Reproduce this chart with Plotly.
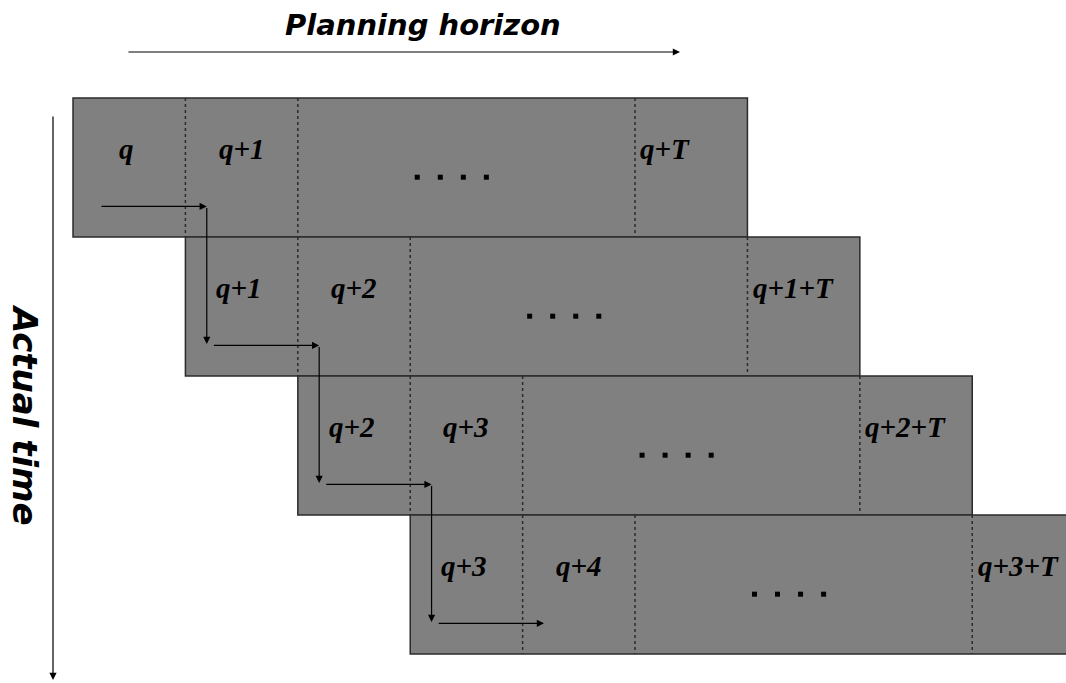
import plotly.graph_objects as go

# --- diagram content -------------------------------------------------
rows = [0, 1, 2, 3]                      # each row starts one cell later
first_labels = ["q", "q+1", "q+2", "q+3"]
second_labels = ["q+1", "q+2", "q+3", "q+4"]
last_labels = ["q+T", "q+1+T", "q+2+T", "q+3+T"]
cell_spans = [1, 1, 3, 1]                # widths of the cells in one row (cell units)
n_dots = 4

# axis ranges in cell units (x) and row units (y)
x_range = [-0.6495, 8.834]
y_range = [4.209, -0.705]

fig = go.Figure()

label_font = dict(family="Liberation Serif, Times New Roman, serif", size=29, color="black")

shapes = []
annotations = []
row_w = sum(cell_spans)
label_y = 0.37

for r in rows:
    # row box
    shapes.append(dict(type="rect", xref="x", yref="y", x0=r, x1=r + row_w, y0=r, y1=r + 1,
                       fillcolor="#808080", line=dict(color="#2b2b2b", width=1.5), layer="below"))
    # dotted dividers
    pos = r
    for w in cell_spans[:-1]:
        pos += w
        shapes.append(dict(type="line", xref="x", yref="y", x0=pos, x1=pos, y0=r, y1=r + 1,
                           line=dict(color="#2b2b2b", width=1.5, dash="dot")))

    annotations.append(dict(x=r + 0.48, y=r + label_y, text="<b><i>%s</i></b>" % first_labels[r],
                            showarrow=False, font=label_font, xref="x", yref="y"))
    annotations.append(dict(x=r + 1.5, y=r + label_y, text="<b><i>%s</i></b>" % second_labels[r],
                            showarrow=False, font=label_font, xref="x", yref="y"))
    annotations.append(dict(x=r + row_w - 1 + 0.03, y=r + label_y, text="<b><i>%s</i></b>" % last_labels[r],
                            showarrow=False, font=label_font, xref="x", yref="y", xanchor="left"))

    # the "...." in the middle block
    fig.add_trace(go.Scatter(
        x=[r + 3.37 + (k - (n_dots - 1) / 2) * 0.205 for k in range(n_dots)],
        y=[r + 0.57] * n_dots,
        mode="markers", marker=dict(symbol="square", size=5, color="black"),
        hoverinfo="skip", showlegend=False))

    # step arrows: right, then down into the next row
    annotations.append(dict(x=r + 1.19, y=r + 0.78, ax=r + 0.24, ay=r + 0.78,
                            xref="x", yref="y", axref="x", ayref="y", text="",
                            showarrow=True, arrowhead=2, arrowsize=1.2, arrowwidth=1.2,
                            arrowcolor="black", standoff=0, startstandoff=0))
    if r < rows[-1]:
        annotations.append(dict(x=r + 1.19, y=r + 1.77, ax=r + 1.19, ay=r + 0.78,
                                xref="x", yref="y", axref="x", ayref="y", text="",
                                showarrow=True, arrowhead=2, arrowsize=1.2, arrowwidth=1.2,
                                arrowcolor="black", standoff=0, startstandoff=0))

# axes arrows and titles
annotations.append(dict(x=5.4, y=-0.331, ax=0.48, ay=-0.331, xref="x", yref="y", axref="x", ayref="y",
                        text="", showarrow=True, arrowhead=2, arrowsize=1.2, arrowwidth=1.2,
                        arrowcolor="black", standoff=0))
annotations.append(dict(x=-0.178, y=4.187, ax=-0.178, ay=0.122, xref="x", yref="y", axref="x", ayref="y",
                        text="", showarrow=True, arrowhead=2, arrowsize=1.2, arrowwidth=1.2,
                        arrowcolor="black", standoff=0))
annotations.append(dict(x=3.11, y=-0.525, text="<b><i>Planning horizon</i></b>", showarrow=False,
                        font=dict(family="DejaVu Sans, Arial, sans-serif", size=29, color="black"),
                        xref="x", yref="y"))
annotations.append(dict(x=-0.427, y=2.28, text="<b><i>Actual time</i></b>", showarrow=False,
                        font=dict(family="DejaVu Sans, Arial, sans-serif", size=34, color="black"),
                        xref="x", yref="y", textangle=90))

fig.update_layout(
    width=1066, height=683,
    margin=dict(l=0, r=0, t=0, b=0),
    plot_bgcolor="white", paper_bgcolor="white",
    shapes=shapes, annotations=annotations,
    xaxis=dict(range=x_range, visible=False, fixedrange=True),
    yaxis=dict(range=y_range, visible=False, fixedrange=True),
    showlegend=False,
)

fig.write_html("out.html", config={"displayModeBar": False},
               post_script="document.body.style.margin='0';document.body.style.overflow='hidden';")
